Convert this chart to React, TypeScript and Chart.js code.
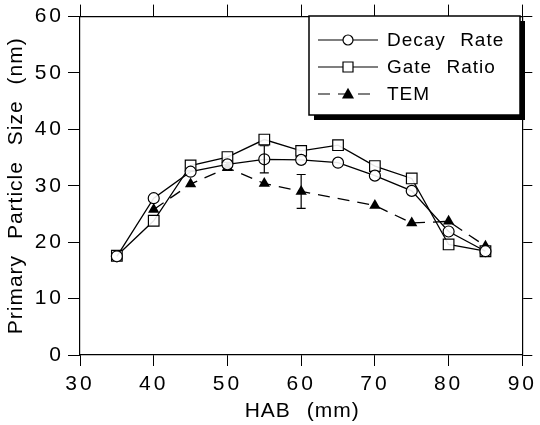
import React, { useEffect, useRef } from 'react';
import { Chart, registerables } from 'chart.js';

Chart.register(...registerables);

// ---- data ----
const habValues = [35, 40, 45, 50, 55, 60, 65, 70, 75, 80, 85];
const decayRate = [17.5, 27.8, 32.5, 33.8, 34.7, 34.6, 34.1, 31.8, 29.1, 21.9, 18.4];
const gateRatio = [17.6, 23.8, 33.6, 35.1, 38.2, 36.2, 37.2, 33.5, 31.3, 19.6, 18.4];
const temHab = [40, 45, 50, 55, 60, 70, 75, 80, 85];
const temSize = [25.8, 30.3, 33.2, 30.4, 29.0, 26.5, 23.4, 23.7, 19.3];

// error bars: series index, x, low, high
const errSeries = [0, 2];
const errHab = [55, 60];
const errLow = [32.3, 26.0];
const errHigh = [37.1, 32.0];

const seriesLabels = ['Decay Rate', 'Gate Ratio', 'TEM'];
const xTitle = 'HAB (mm)';
const yTitle = 'Primary Particle Size (nm)';
const xMin = 30, xMax = 90, xStep = 10;
const yMin = 0, yMax = 60, yStep = 10;

const FONT = '"Liberation Sans", Arial, Helvetica, sans-serif';

function drawMarker(ctx: CanvasRenderingContext2D, style: string, x: number, y: number, s: number) {
  ctx.beginPath();
  if (style === 'circle') {
    ctx.arc(x, y, s, 0, Math.PI * 2);
    ctx.fillStyle = '#fff';
    ctx.fill();
    ctx.stroke();
  } else if (style === 'rect') {
    ctx.rect(x - s, y - s, 2 * s, 2 * s);
    ctx.fillStyle = '#fff';
    ctx.fill();
    ctx.stroke();
  } else {
    ctx.moveTo(x, y - s * 1.05);
    ctx.lineTo(x + s, y + s * 0.75);
    ctx.lineTo(x - s, y + s * 0.75);
    ctx.closePath();
    ctx.fillStyle = '#000';
    ctx.fill();
  }
}

const decorPlugin = {
  id: 'decor',
  beforeDraw(chart: any) {
    const ctx = chart.ctx as any;
    ctx.letterSpacing = '3px';
  },
  afterDatasetsDraw(chart: any) {
    const ctx = chart.ctx as CanvasRenderingContext2D;
    const xs = chart.scales.x;
    const ys = chart.scales.y;
    ctx.save();
    ctx.strokeStyle = '#000';
    ctx.lineWidth = 1.2;
    ctx.setLineDash([]);
    for (let i = 0; i < errHab.length; i++) {
      const px = xs.getPixelForValue(errHab[i]);
      const pl = ys.getPixelForValue(errLow[i]);
      const ph = ys.getPixelForValue(errHigh[i]);
      ctx.beginPath();
      ctx.moveTo(px, pl);
      ctx.lineTo(px, ph);
      ctx.moveTo(px - 4.5, pl);
      ctx.lineTo(px + 4.5, pl);
      ctx.moveTo(px - 4.5, ph);
      ctx.lineTo(px + 4.5, ph);
      ctx.stroke();
    }
    ctx.restore();
  },
  afterDraw(chart: any) {
    const ctx = chart.ctx as any;
    const area = chart.chartArea;
    ctx.save();
    ctx.fillStyle = '#000';
    ctx.font = `21px ${FONT}`;
    ctx.letterSpacing = '1px';
    ctx.wordSpacing = '9px';
    ctx.textAlign = 'center';
    ctx.textBaseline = 'middle';
    // x title
    ctx.fillText(xTitle, (area.left + area.right) / 2 + 1, 411);
    // y title
    ctx.save();
    ctx.translate(16, (area.top + area.bottom) / 2);
    ctx.rotate(-Math.PI / 2);
    ctx.fillText(yTitle, 0, 0);
    ctx.restore();

    // legend box
    const bx = 309, by = 16, bw = 211, bh = 99;
    ctx.fillStyle = '#000';
    ctx.fillRect(bx + 5, by + 5, bw, bh);
    ctx.fillStyle = '#fff';
    ctx.fillRect(bx, by, bw, bh);
    ctx.strokeStyle = '#000';
    ctx.lineWidth = 1.5;
    ctx.strokeRect(bx, by, bw, bh);

    const rowsY = [40, 67, 94];
    const styles = ['circle', 'rect', 'triangle'];
    const sizes = [5, 5, 6];
    chart.data.datasets.forEach((ds: any, i: number) => {
      const y = rowsY[i];
      ctx.strokeStyle = '#000';
      ctx.lineWidth = 1.2;
      ctx.setLineDash(ds.borderDash || []);
      ctx.beginPath();
      ctx.moveTo(318, y);
      ctx.lineTo(378, y);
      ctx.stroke();
      ctx.setLineDash([]);
      drawMarker(ctx, styles[i], 348, y, sizes[i]);
      ctx.fillStyle = '#000';
      ctx.font = `19px ${FONT}`;
      ctx.letterSpacing = '1px';
      ctx.wordSpacing = '8px';
      ctx.textAlign = 'left';
      ctx.textBaseline = 'middle';
      ctx.fillText(ds.label, 387, y + 1);
    });
    ctx.restore();
    ctx.letterSpacing = '0px';
  },
};

export default function App() {
  const ref = useRef<HTMLCanvasElement | null>(null);

  useEffect(() => {
    if (!ref.current) return;
    const commonGrid = { drawOnChartArea: false, color: '#000', lineWidth: 1, drawTicks: true };
    const chart = new Chart(ref.current, {
      type: 'line',
      data: {
        datasets: [
          {
            label: seriesLabels[0],
            data: habValues.map((x, i) => ({ x, y: decayRate[i] })),
            borderColor: '#000',
            borderWidth: 1.3,
            backgroundColor: '#fff',
            pointStyle: 'circle',
            pointRadius: 5.5,
            pointBorderWidth: 1.2,
            pointBorderColor: '#000',
            pointBackgroundColor: 'rgba(255,255,255,0.9)',
            tension: 0,
          },
          {
            label: seriesLabels[1],
            data: habValues.map((x, i) => ({ x, y: gateRatio[i] })),
            borderColor: '#000',
            borderWidth: 1.3,
            pointStyle: 'rect',
            pointRadius: 7.5,
            pointBorderWidth: 1.2,
            pointBorderColor: '#000',
            pointBackgroundColor: 'rgba(255,255,255,0.9)',
            tension: 0,
          },
          {
            label: seriesLabels[2],
            data: temHab.map((x, i) => ({ x, y: temSize[i] })),
            borderColor: '#000',
            borderWidth: 1.3,
            borderDash: [12, 8],
            pointStyle: 'triangle',
            pointRadius: 6.5,
            pointBorderWidth: 0,
            pointBackgroundColor: '#000',
            pointBorderColor: '#000',
            tension: 0,
          },
        ],
      },
      options: {
        responsive: false,
        animation: false,
        devicePixelRatio: 1,
        layout: { padding: 0 },
        plugins: { legend: { display: false }, title: { display: false }, tooltip: { enabled: false } },
        events: [],
        scales: {
          x: {
            type: 'linear',
            position: 'bottom',
            min: xMin,
            max: xMax,
            ticks: {
              stepSize: xStep,
              autoSkip: false,
              maxRotation: 0,
              color: '#000',
              padding: 6,
              font: { family: FONT, size: 21 },
            },
            grid: { ...commonGrid, tickLength: 11 },
            border: { display: true, color: '#000', width: 1.2 },
            afterFit: (s: any) => { s.height = 70; },
          },
          x2: {
            type: 'linear',
            position: 'top',
            min: xMin,
            max: xMax,
            ticks: { stepSize: xStep, display: false, autoSkip: false },
            grid: { ...commonGrid, tickLength: 12 },
            border: { display: true, color: '#000', width: 1.2 },
            afterFit: (s: any) => { s.height = 15; },
          },
          y: {
            type: 'linear',
            position: 'left',
            min: yMin,
            max: yMax,
            ticks: {
              stepSize: yStep,
              color: '#000',
              padding: 4,
              font: { family: FONT, size: 21 },
            },
            grid: { ...commonGrid, tickLength: 12 },
            border: { display: true, color: '#000', width: 1.2 },
            afterFit: (s: any) => { s.width = 80; },
          },
          y2: {
            type: 'linear',
            position: 'right',
            min: yMin,
            max: yMax,
            ticks: { stepSize: yStep, display: false },
            grid: { ...commonGrid, tickLength: 10 },
            border: { display: true, color: '#000', width: 1.2 },
            afterFit: (s: any) => { s.width = 16; },
          },
        },
      } as any,
      plugins: [decorPlugin],
    });
    return () => chart.destroy();
  }, []);

  return (
    <div style={{ position: 'absolute', left: 0, top: 0, width: 540, height: 425, background: '#fff' }}>
      <canvas ref={ref} width={540} height={425} style={{ display: 'block', width: 540, height: 425 }} />
    </div>
  );
}
